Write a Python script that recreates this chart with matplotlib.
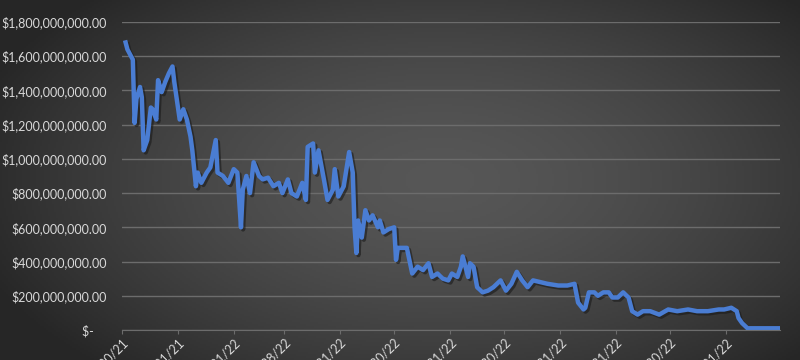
# Market value line chart (Excel style, dark theme)
import numpy as np
import pandas as pd
import matplotlib
matplotlib.use('Agg')
import matplotlib.pyplot as plt
import matplotlib.dates as mdates
import matplotlib.patheffects as pe
from matplotlib.ticker import FuncFormatter

# Data (values in millions of dollars)
dates = ['2021-12-02', '2021-12-03', '2021-12-06', '2021-12-07', '2021-12-08', '2021-12-10',
         '2021-12-11', '2021-12-12', '2021-12-14', '2021-12-16', '2021-12-17', '2021-12-19',
         '2021-12-20', '2021-12-22', '2021-12-24', '2021-12-26', '2021-12-28', '2021-12-29',
         '2022-01-01', '2022-01-03', '2022-01-05', '2022-01-07', '2022-01-08', '2022-01-10',
         '2022-01-11', '2022-01-13', '2022-01-16', '2022-01-18', '2022-01-21', '2022-01-22',
         '2022-01-25', '2022-01-28', '2022-01-31', '2022-02-02', '2022-02-04', '2022-02-05',
         '2022-02-07', '2022-02-09', '2022-02-11', '2022-02-14', '2022-02-16', '2022-02-19',
         '2022-02-22', '2022-02-25', '2022-02-27', '2022-03-02', '2022-03-04', '2022-03-07',
         '2022-03-10', '2022-03-12', '2022-03-13', '2022-03-16', '2022-03-17', '2022-03-19',
         '2022-03-22', '2022-03-24', '2022-03-27', '2022-03-28', '2022-03-30', '2022-04-02',
         '2022-04-05', '2022-04-07', '2022-04-08', '2022-04-09', '2022-04-10', '2022-04-12',
         '2022-04-14', '2022-04-16', '2022-04-18', '2022-04-21', '2022-04-22', '2022-04-24',
         '2022-04-27', '2022-04-30', '2022-05-01', '2022-05-02', '2022-05-07', '2022-05-10',
         '2022-05-13', '2022-05-16', '2022-05-19', '2022-05-21', '2022-05-24', '2022-05-27',
         '2022-05-30', '2022-06-01', '2022-06-04', '2022-06-06', '2022-06-07', '2022-06-10',
         '2022-06-11', '2022-06-13', '2022-06-15', '2022-06-18', '2022-06-21', '2022-06-24',
         '2022-06-28', '2022-07-01', '2022-07-04', '2022-07-07', '2022-07-10', '2022-07-13',
         '2022-07-16', '2022-07-20', '2022-07-24', '2022-07-30', '2022-08-04', '2022-08-08',
         '2022-08-10', '2022-08-13', '2022-08-14', '2022-08-16', '2022-08-19', '2022-08-21',
         '2022-08-24', '2022-08-27', '2022-08-29', '2022-09-01', '2022-09-04', '2022-09-07',
         '2022-09-09', '2022-09-12', '2022-09-15', '2022-09-19', '2022-09-24', '2022-09-29',
         '2022-10-04', '2022-10-10', '2022-10-15', '2022-10-21', '2022-10-27', '2022-10-30',
         '2022-11-03', '2022-11-06', '2022-11-07', '2022-11-09', '2022-11-12', '2022-11-29']
values_m = [1680, 1640, 1580, 1210, 1350, 1420,
            1360, 1050, 1110, 1300, 1290, 1230,
            1460, 1390, 1450, 1500, 1540, 1450,
            1230, 1290, 1230, 1130, 1050, 840,
            920, 860, 920, 950, 1110, 920,
            900, 860, 940, 920, 600, 820,
            900, 800, 980, 900, 880, 890,
            840, 860, 800, 880, 800, 780,
            860, 760, 1070, 1090, 920, 1050,
            880, 760, 820, 940, 780, 840,
            1040, 920, 600, 450, 640, 540,
            700, 640, 670, 600, 640, 570,
            590, 600, 410, 480, 480, 330,
            370, 350, 390, 310, 330, 300,
            290, 330, 310, 370, 430, 310,
            390, 370, 250, 220, 230, 250,
            290, 230, 270, 340, 290, 250,
            290, 280, 270, 260, 260, 270,
            160, 120, 130, 220, 220, 200,
            220, 220, 190, 190, 220, 190,
            110, 90, 110, 110, 90, 120,
            110, 120, 110, 110, 120, 120,
            130, 110, 70, 40, 10, 10]

# month-end tick dates used on the x axis
tick_dates = ['2021-11-30', '2021-12-31', '2022-01-31', '2022-02-28', '2022-03-31', '2022-04-30',
              '2022-05-31', '2022-06-30', '2022-07-31', '2022-08-31', '2022-09-30', '2022-10-31']
y_ticks = [0, 200e6, 400e6, 600e6, 800e6, 1000e6, 1200e6, 1400e6, 1600e6, 1800e6]

x = pd.to_datetime(dates)
y = np.array(values_m) * 1e6
ticks = pd.to_datetime(tick_dates)

plt.rcParams['font.family'] = ['Lato', 'DejaVu Sans']

fig = plt.figure(figsize=(8, 3.6), dpi=100)

# dark vignette background
bg = fig.add_axes([0, 0, 1, 1], zorder=-1)
gx, gy = np.meshgrid(np.linspace(-1, 1, 400), np.linspace(-1, 1, 180))
r = np.sqrt(((gx - 0.1) / 1.1) ** 2 + (gy / 1.3) ** 2)
shade = np.clip(0.34 - 0.16 * r ** 1.6, 0.15, 0.34)
bg.imshow(np.dstack([shade] * 3), aspect='auto', extent=[0, 1, 0, 1])
bg.axis('off')

ax = fig.add_axes([0.1525, 0.0833, 0.8225, 0.8557])
ax.set_facecolor('none')

ax.plot(x, y, color='#4a7dd3', linewidth=3.2, solid_joinstyle='round',
        path_effects=[pe.SimpleLineShadow(offset=(1.5, -1.5), shadow_color='#1a1a1a', alpha=0.6),
                      pe.Normal()])

ax.set_ylim(0, 1.8e9)
ax.set_yticks(y_ticks)
ax.set_xlim(pd.Timestamp('2021-11-30'), pd.Timestamp('2022-11-30'))
ax.set_xticks(ticks)


def short_date(v, p):
    d = mdates.num2date(v)
    return '{}/{}/{}'.format(d.month, d.day, d.strftime('%y'))


def money(v, p):
    if v == 0:
        return '$-    '
    return '${:,.2f}'.format(v)


ax.xaxis.set_major_formatter(FuncFormatter(short_date))
ax.yaxis.set_major_formatter(FuncFormatter(money))

ax.grid(axis='y', color='#6c6c6c', linewidth=1)
ax.set_axisbelow(True)
for s in ['top', 'right', 'left']:
    ax.spines[s].set_visible(False)
ax.spines['bottom'].set_color('#6c6c6c')
ax.tick_params(axis='y', length=0, pad=11, labelsize=9, labelcolor='#d9d9d9')
ax.tick_params(axis='x', direction='out', length=3, color='#6c6c6c', pad=1,
               labelsize=9, labelcolor='#d9d9d9')
for lab in ax.get_xticklabels():
    lab.set_rotation(45)
    lab.set_ha('right')
    lab.set_va('top')
    lab.set_rotation_mode('anchor')

fig.savefig('out.png', dpi=100)
